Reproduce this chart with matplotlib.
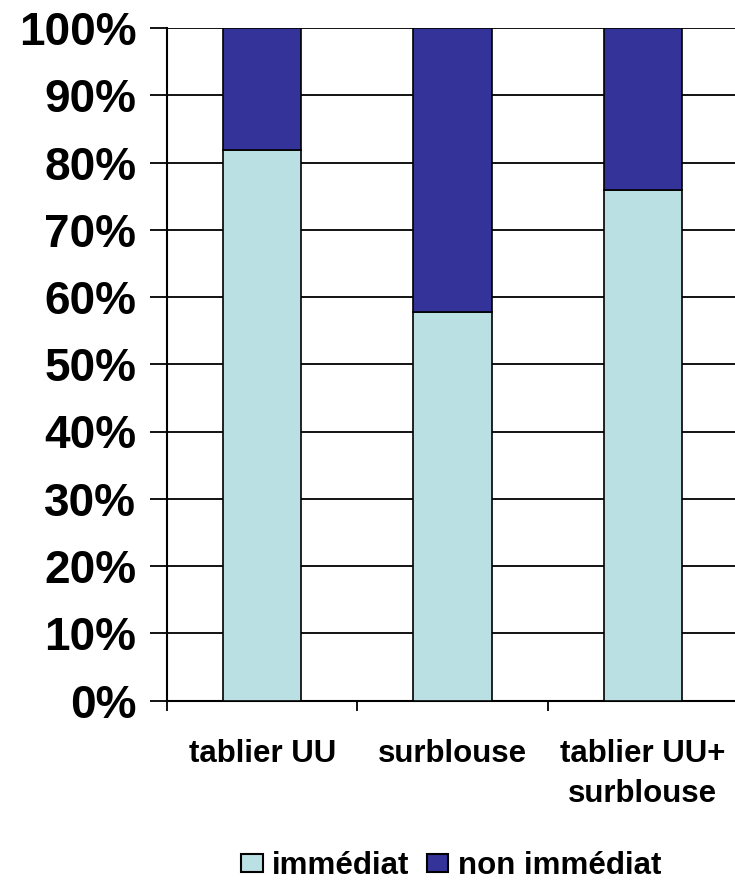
import matplotlib.pyplot as plt
from matplotlib.patches import Patch
import numpy as np

plt.rcParams['font.family'] = ['Liberation Sans', 'DejaVu Sans']
plt.rcParams['font.weight'] = 'bold'

### data ##########
categories = ['tablier UU', 'surblouse', 'tablier UU+\nsurblouse']
immediat = [81.8, 57.7, 75.9]
non_immediat = [100 - v for v in immediat]
yticks = list(range(0, 101, 10))
####################

fig = plt.figure(figsize=(7.35, 8.83), dpi=100)
W, H = 735, 883
ax = fig.add_axes([167 / W, (H - 700.5) / H, (738 - 167) / W, (700.5 - 28) / H])

x = np.arange(len(categories))
ax.bar(x, immediat, width=0.41, color='#BBE0E3', edgecolor='black', linewidth=1.2, zorder=3)
ax.bar(x, non_immediat, width=0.41, bottom=immediat, color='#333399', edgecolor='black', linewidth=1.2, zorder=3)

ax.set_xlim(-0.5, 2.5)
ax.set_ylim(0, 100)
ax.set_yticks(yticks)
ax.set_yticklabels([f'{t}%' for t in yticks], fontsize=33, fontweight='bold')
ax.yaxis.grid(True, color='black', linewidth=1.3, zorder=0)
ax.set_axisbelow(True)

ax.set_xticks([-0.5, 0.5, 1.5, 2.5])
ax.set_xticklabels([])
ax.set_xticks(x, minor=True)
ax.set_xticklabels(categories, minor=True, fontsize=22.5, fontweight='bold', linespacing=1.4)
ax.tick_params(axis='x', which='major', length=7, width=1.3, direction='out')
ax.tick_params(axis='x', which='minor', length=0, pad=28)
ax.tick_params(axis='y', length=12, width=1.3, pad=10)

for s in ['top', 'right']:
    ax.spines[s].set_visible(False)
for s in ['left', 'bottom']:
    ax.spines[s].set_linewidth(1.5)

handles = [Patch(facecolor='#BBE0E3', edgecolor='black', linewidth=1.5),
           Patch(facecolor='#333399', edgecolor='black', linewidth=1.5)]
fig.legend(handles, ['immédiat', 'non immédiat'], loc='center', bbox_to_anchor=(451 / W, 1 - 866 / H),
           ncol=2, frameon=False, prop={'size': 22.5, 'weight': 'bold'},
           handlelength=0.7, handleheight=0.55, handletextpad=0.3, columnspacing=0.55,
           borderpad=0, borderaxespad=0)

plt.savefig('out.png', dpi=100)
